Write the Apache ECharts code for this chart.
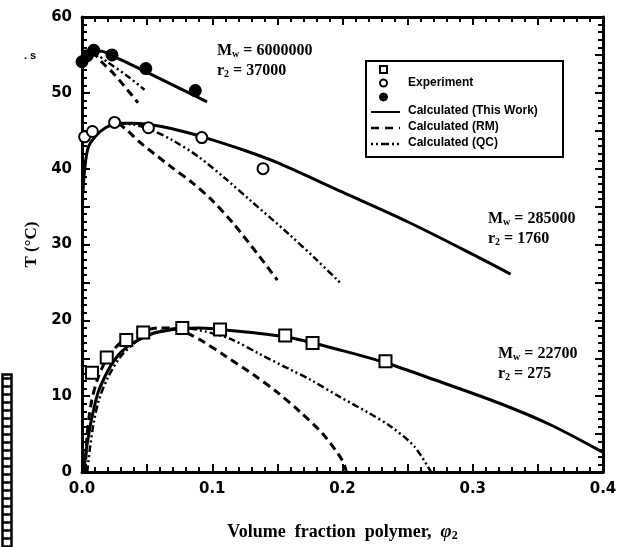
<!DOCTYPE html>
<html>
<head>
<meta charset="utf-8">
<script src="https://cdn.jsdelivr.net/npm/echarts@6/dist/echarts.min.js"></script>
<style>html,body{margin:0;padding:0;background:#fff}#c{width:620px;height:547px}</style>
</head>
<body>
<div id="c"></div>
<script>
// ---- Data (volume fraction phi2, T in °C) ----
const xTickLabels = ['0.0', '0.1', '0.2', '0.3', '0.4'];
const yTickLabels = ['0', '10', '20', '30', '40', '50', '60'];

// Mw = 6000000
const exp6M = [[0.0, 54.1], [0.004, 54.9], [0.009, 55.6], [0.023, 55.0], [0.049, 53.2], [0.087, 50.3]];
const calc6M = [[0.0, 53.5], [0.003, 54.8], [0.008, 55.5], [0.015, 55.5], [0.022, 55.0], [0.05, 52.7], [0.075, 50.6], [0.096, 48.8]];
const rm6M = [[0.008, 55.5], [0.015, 54.1], [0.025, 52.4], [0.043, 48.7]];
const qc6M = [[0.008, 55.5], [0.02, 54.0], [0.035, 52.2], [0.048, 50.4]];

// Mw = 285000
const exp285k = [[0.002, 44.2], [0.008, 44.9], [0.025, 46.1], [0.051, 45.4], [0.092, 44.1], [0.139, 40.0]];
const calc285k = [[0.0008, 37.0], [0.002, 39.8], [0.0046, 42.7], [0.01, 44.2], [0.018, 45.4], [0.028, 46.0], [0.04, 46.0], [0.06, 45.6], [0.08, 44.8], [0.1, 43.8], [0.125, 42.4], [0.15, 40.8], [0.2, 36.9], [0.25, 33.0], [0.3, 28.7], [0.329, 26.1]];
const rm285k = [[0.028, 46.0], [0.035, 45.0], [0.045, 43.4], [0.068, 40.3], [0.085, 38.1], [0.1, 35.8], [0.116, 32.8], [0.135, 28.7], [0.15, 25.3]];
const qc285k = [[0.028, 46.0], [0.04, 45.8], [0.052, 45.2], [0.07, 43.7], [0.09, 41.5], [0.11, 38.7], [0.13, 35.7], [0.158, 31.5], [0.18, 28.0], [0.198, 25.0]];

// Mw = 22700
const exp22k = [[0.0077, 13.1], [0.019, 15.1], [0.034, 17.4], [0.047, 18.4], [0.077, 19.0], [0.106, 18.8], [0.156, 18.0], [0.177, 17.0], [0.233, 14.6]];
const calc22k = [[0.0015, 0], [0.003, 2.5], [0.005, 4.8], [0.008, 7.5], [0.012, 10.3], [0.016, 12.0], [0.022, 14.0], [0.03, 15.8], [0.04, 17.1], [0.055, 18.3], [0.075, 18.9], [0.09, 19.0], [0.106, 18.8], [0.13, 18.4], [0.16, 17.7], [0.2, 16.0], [0.233, 14.4], [0.27, 12.2], [0.32, 9.1], [0.36, 6.2], [0.4, 2.6]];
const rm22k = [[0.0025, 0], [0.004, 5.0], [0.007, 9.0], [0.012, 12.3], [0.02, 15.2], [0.03, 17.1], [0.045, 18.5], [0.06, 19.0], [0.072, 18.9], [0.082, 18.2], [0.092, 17.3], [0.11, 15.3], [0.132, 12.8], [0.15, 10.5], [0.167, 8.0], [0.185, 5.0], [0.2, 1.5], [0.203, 0]];
const qc22k = [[0.004, 0], [0.006, 3.0], [0.009, 6.5], [0.013, 9.5], [0.02, 12.5], [0.03, 15.3], [0.045, 17.6], [0.06, 18.6], [0.078, 19.0], [0.1, 18.3], [0.116, 17.4], [0.137, 15.5], [0.16, 13.5], [0.175, 12.2], [0.198, 9.9], [0.22, 7.8], [0.237, 6.0], [0.255, 3.4], [0.268, 0]];

const annotations = [
  { mw: '6000000', r2: '37000', x: 217, y: 52 },
  { mw: '285000', r2: '1760', x: 488, y: 220 },
  { mw: '22700', r2: '275', x: 498, y: 355 }
];

// ---- Chart ----
const chart = echarts.init(document.getElementById('c'), null, { renderer: 'canvas' });
const BLACK = '#000';
const tickFont = { fontFamily: 'DejaVu Sans', fontWeight: 'bold', fontSize: 15, color: BLACK };

function xAxisCfg(pos, showLabel) {
  return {
    type: 'value', min: 0, max: 0.4, interval: 0.05, position: pos,
    axisLine: { show: true, onZero: false, lineStyle: { color: BLACK, width: 3 } },
    axisTick: { show: true, inside: true, length: 8, lineStyle: { color: BLACK, width: 2 } },
    minorTick: { show: true, splitNumber: 5, length: 5, lineStyle: { color: BLACK, width: 2 } },
    splitLine: { show: false },
    axisLabel: Object.assign({
      show: showLabel, margin: 10,
      formatter: v => { const k = Math.round(v * 10); return Math.abs(v * 10 - k) < 1e-6 ? xTickLabels[k] : ''; }
    }, tickFont)
  };
}
function yAxisCfg(pos, showLabel) {
  return {
    type: 'value', min: 0, max: 60, interval: 5, position: pos,
    axisLine: { show: true, onZero: false, lineStyle: { color: BLACK, width: 3 } },
    axisTick: { show: true, inside: true, length: 8, lineStyle: { color: BLACK, width: 2 } },
    minorTick: { show: true, splitNumber: 5, length: 5, lineStyle: { color: BLACK, width: 2 } },
    splitLine: { show: false },
    axisLabel: Object.assign({
      show: showLabel, margin: 10,
      formatter: v => (v % 10 === 0 ? yTickLabels[v / 10] : '')
    }, tickFont)
  };
}

const xa = xAxisCfg('bottom', true);
xa.name = '{n|Volume  fraction  polymer,  }{p|φ}{s|2}';
xa.nameLocation = 'middle';
xa.nameGap = 50;
xa.nameTextStyle = {
  rich: {
    n: { fontFamily: 'Liberation Serif', fontWeight: 'bold', fontSize: 18, color: BLACK },
    p: { fontFamily: 'Liberation Serif', fontWeight: 'bold', fontStyle: 'italic', fontSize: 19, color: BLACK },
    s: { fontFamily: 'Liberation Serif', fontWeight: 'bold', fontSize: 12, color: BLACK, padding: [8, 0, 0, 0] }
  }
};
const ya = yAxisCfg('left', true);
ya.name = 'T (°C)';
ya.nameLocation = 'middle';
ya.nameGap = 40;
ya.nameTextStyle = { fontFamily: 'Liberation Serif', fontWeight: 'bold', fontSize: 17, color: BLACK };

const solid = { color: BLACK, width: 3, type: 'solid', opacity: 1 };
const dashed = { color: BLACK, width: 3, type: [8, 5], opacity: 1 };
const dashdot = { color: BLACK, width: 2.5, type: [7, 3, 2, 3, 2, 3], opacity: 1 };

function line(data, ls) {
  return { type: 'line', data: data, showSymbol: false, symbol: 'none', smooth: 0.3, lineStyle: ls, z: 2, silent: true, emphasis: { disabled: true } };
}
function pts(data, symbol, filled) {
  return {
    type: 'scatter', data: data, symbol: symbol, symbolSize: symbol === 'rect' ? 12 : 11, z: 5, silent: true,
    emphasis: { disabled: true },
    itemStyle: { color: filled ? BLACK : '#fff', borderColor: BLACK, borderWidth: 2, opacity: 1 }
  };
}

const annRich = {
  t: { fontFamily: 'Liberation Serif', fontWeight: 'bold', fontSize: 16, color: BLACK },
  s: { fontFamily: 'Liberation Serif', fontWeight: 'bold', fontSize: 10, color: BLACK, padding: [7, 0, 0, 0] }
};
const annGraphics = [];
annotations.forEach(a => {
  annGraphics.push({ type: 'text', left: a.x, top: a.y - 9, style: { text: '{t|M}{s|w}{t| = ' + a.mw + '}', rich: annRich } });
  annGraphics.push({ type: 'text', left: a.x, top: a.y + 11, style: { text: '{t|r}{s|2}{t| = ' + a.r2 + '}', rich: annRich } });
});

const legFont = { fontFamily: 'Liberation Sans', fontWeight: 'bold', fontSize: 12, fill: BLACK };
const LX = 365, LY = 60;
const legend = {
  type: 'group', left: LX, top: LY, children: [
    { type: 'rect', shape: { x: 0, y: 0, width: 197, height: 96 }, style: { fill: '#fff', stroke: BLACK, lineWidth: 2 } },
    { type: 'rect', shape: { x: 14, y: 5, width: 7, height: 7 }, style: { fill: '#fff', stroke: BLACK, lineWidth: 2 } },
    { type: 'circle', shape: { cx: 17.5, cy: 22, r: 3.5 }, style: { fill: '#fff', stroke: BLACK, lineWidth: 2 } },
    { type: 'circle', shape: { cx: 17.5, cy: 36, r: 4 }, style: { fill: BLACK, stroke: BLACK, lineWidth: 1 } },
    { type: 'text', x: 42, y: 16, style: Object.assign({ text: 'Experiment' }, legFont) },
    { type: 'line', shape: { x1: 5, y1: 51, x2: 34, y2: 51 }, style: { stroke: BLACK, lineWidth: 2 } },
    { type: 'line', shape: { x1: 5, y1: 67, x2: 34, y2: 67 }, style: { stroke: BLACK, lineWidth: 2.5, lineDash: [8, 6] } },
    { type: 'line', shape: { x1: 5, y1: 83, x2: 34, y2: 83 }, style: { stroke: BLACK, lineWidth: 2.5, lineDash: [2, 3, 2, 3, 8, 3] } },
    { type: 'text', x: 42, y: 44, style: Object.assign({ text: 'Calculated (This Work)' }, legFont) },
    { type: 'text', x: 42, y: 60, style: Object.assign({ text: 'Calculated (RM)' }, legFont) },
    { type: 'text', x: 42, y: 76, style: Object.assign({ text: 'Calculated (QC)' }, legFont) }
  ]
};

// scan artifacts at left edge
const ladder = { type: 'group', left: 0, top: 372, children: [] };
ladder.children.push({ type: 'rect', shape: { x: 1, y: 0, width: 9, height: 180 }, style: { fill: 'none', stroke: BLACK, lineWidth: 2.5 } });
for (let i = 0; i < 22; i++) {
  ladder.children.push({ type: 'line', shape: { x1: 1, y1: 4 + i * 8, x2: 10, y2: 4 + i * 8 }, style: { stroke: BLACK, lineWidth: 2.5 } });
}

const option = {
  backgroundColor: '#fff',
  animation: false,
  grid: { left: 82, right: 17, top: 17, bottom: 75, containLabel: false },
  xAxis: [xa, xAxisCfg('top', false)],
  yAxis: [ya, yAxisCfg('right', false)],
  series: [
    line(calc6M, solid), line(rm6M, dashed), line(qc6M, dashdot),
    line(calc285k, solid), line(rm285k, dashed), line(qc285k, dashdot),
    line(calc22k, solid), line(rm22k, dashed), line(qc22k, dashdot),
    pts(exp6M, 'circle', true), pts(exp285k, 'circle', false), pts(exp22k, 'rect', false)
  ],
  graphic: annGraphics.concat([legend, ladder,
    { type: 'text', left: 24, top: 50, style: { text: '. s', fontFamily: 'Liberation Sans', fontWeight: 'bold', fontSize: 11, fill: BLACK } }])
};
chart.setOption(option);
</script>
</body>
</html>
